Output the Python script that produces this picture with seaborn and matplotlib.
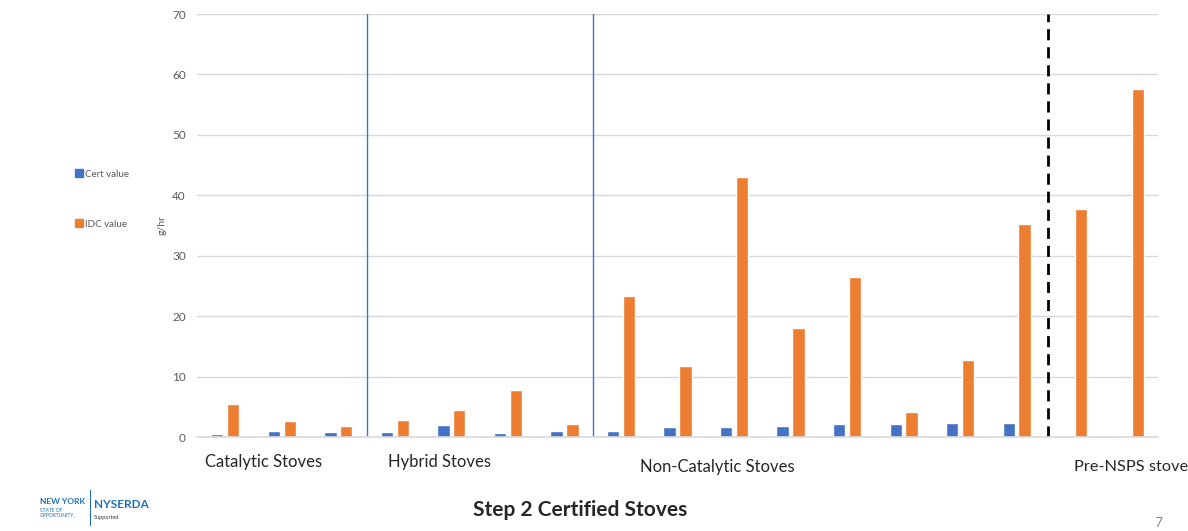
import numpy as np
import pandas as pd
import seaborn as sns
import matplotlib.pyplot as plt
from matplotlib.lines import Line2D

# stove groups, 17 stoves in total
stoves = [f"S{i}" for i in range(1, 18)]
cert_value = [0.45, 0.95, 0.75,
              0.75, 2.0, 0.6, 0.95,
              0.95, 1.6, 1.6, 1.9, 2.1, 2.1, 2.4, 2.4,
              np.nan, np.nan]
idc_value = [5.4, 2.6, 1.8,
             2.8, 4.5, 7.7, 2.2,
             23.3, 11.7, 43.0, 18.0, 26.5, 4.1, 12.7, 35.2,
             37.7, 57.6]
group_labels = ["Catalytic Stoves", "Hybrid Stoves", "Non-Catalytic Stoves", "Pre-NSPS stove"]
y_ticks = [0, 10, 20, 30, 40, 50, 60, 70]

df = pd.DataFrame({
    "stove": stoves * 2,
    "value": cert_value + idc_value,
    "series": ["Cert value"] * 17 + ["IDC value"] * 17,
})

sns.set_theme(style="white")
plt.rcParams["font.family"] = ["Lato", "DejaVu Sans"]

fig = plt.figure(figsize=(11.88, 5.31), dpi=100)
ax = fig.add_axes([0.1658, 0.177, 0.809, 0.7966])

sns.barplot(data=df, x="stove", y="value", hue="series",
            palette=["#4472C4", "#ED7D31"], width=0.56, gap=0.22,
            ax=ax, saturation=1)

ax.set_ylim(0, 70)
ax.set_xlim(-0.5, 16.5)
ax.set_yticks(y_ticks)
ax.tick_params(axis="y", labelsize=8.5, labelcolor="#595959", length=0, pad=8)
ax.set_xticks([])
ax.set_xlabel("")
ax.set_ylabel("g/hr", fontsize=7.5, color="#595959", labelpad=4)
ax.yaxis.grid(True, color="#d9d9d9", lw=1)
ax.set_axisbelow(True)
for s in ["top", "right", "left"]:
    ax.spines[s].set_visible(False)
ax.spines["bottom"].set_color("#d9d9d9")
ax.spines["bottom"].set_linewidth(1.2)

# group dividers
ax.axvline(2.5, color="#4472C4", lw=1)
ax.axvline(6.5, color="#4472C4", lw=1)
ax.axvline(14.55, color="black", lw=2, ls=(0, (4, 2.5)))

# legend on the left
ax.get_legend().remove()
handles = [Line2D([], [], marker="s", ls="", color=c, markersize=6)
           for c in ["#4472C4", "#ED7D31"]]
fig.legend(handles, ["Cert value", "IDC value"], loc="center left",
           bbox_to_anchor=(0.055, 0.625), frameon=False, fontsize=7,
           labelspacing=4.2, handletextpad=0.1, labelcolor="#595959",
           handlelength=1.0)

# group labels under the axis
fig.text(205 / 1188, 1 - 462 / 531, group_labels[0], fontsize=12, va="center")
fig.text(388 / 1188, 1 - 462 / 531, group_labels[1], fontsize=12, va="center")
fig.text(640 / 1188, 1 - 467 / 531, group_labels[2], fontsize=12, va="center")
fig.text(1074 / 1188, 1 - 467 / 531, group_labels[3], fontsize=11.8, va="center")

fig.text(580 / 1188, 1 - 510 / 531, "Step 2 Certified Stoves", fontsize=15,
         fontweight="bold", ha="center", va="center")
fig.text(1158 / 1188, 1 - 523 / 531, "7", fontsize=10, color="#8c8c8c",
         ha="center", va="center")

# logo text
fig.text(40 / 1188, 1 - 501 / 531, "NEW YORK", fontsize=6, fontweight="bold",
         color="#1f6fb5", va="center")
fig.text(40 / 1188, 1 - 513 / 531, "STATE OF\nOPPORTUNITY.", fontsize=3.5,
         color="#1f6fb5", va="center", linespacing=1.0)
fig.add_artist(Line2D([90 / 1188, 90 / 1188], [1 - 490 / 531, 1 - 525 / 531],
                      color="#1f6fb5", lw=0.8))
fig.text(94 / 1188, 1 - 505 / 531, "NYSERDA", fontsize=8.5, fontweight="bold",
         color="#1f6fb5", va="center")
fig.text(94 / 1188, 1 - 518 / 531, "Supported", fontsize=4, color="#333333",
         va="center")

fig.savefig("out.png", dpi=100, facecolor="white")
